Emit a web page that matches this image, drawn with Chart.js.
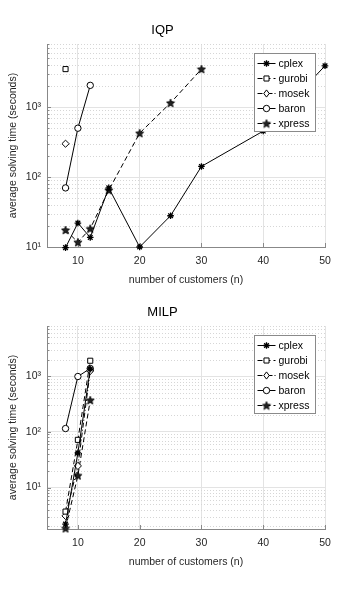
<!DOCTYPE html>
<html><head><meta charset="utf-8">
<script src="https://cdn.jsdelivr.net/npm/chart.js@4.4.0/dist/chart.umd.min.js"></script>
<style>
html,body{margin:0;padding:0;background:#fff;width:360px;height:595px;overflow:hidden;}
.box{position:absolute;left:0;width:360px;height:300px;}
canvas{display:block;}
</style></head><body>
<div class="box" style="top:0"><canvas id="c1" width="360" height="300"></canvas></div>
<div class="box" style="top:282px"><canvas id="c2" width="360" height="300"></canvas></div>
<script>
// ---- data ----
const solvers = ['cplex','gurobi','mosek','baron','xpress'];
const xTicks = [10,20,30,40,50];
const yTicks = [10,100,1000];
const yTickLabels = ['10\u00B9','10\u00B2','10\u00B3'];

// IQP
const iqpCplexN  = [8,10,12,15,20,25,30,40,50];
const iqpCplexT  = [9.8,22,13.7,70,10,28,142,455,3900];
const iqpGurobiN = [8];
const iqpGurobiT = [3500];
const iqpMosekN  = [8];
const iqpMosekT  = [300];
const iqpBaronN  = [8,10,12];
const iqpBaronT  = [70,500,2050];
const iqpXpressN = [8,10,12,15,20,25,30];
const iqpXpressT = [17.5,11.7,18.3,65,425,1150,3500];

// MILP
const milpCplexN  = [8,10,12];
const milpCplexT  = [2.2,42,1350];
const milpGurobiN = [8,10,12];
const milpGurobiT = [3.7,72,1900];
const milpMosekN  = [8,10,12];
const milpMosekT  = [3.1,24.5,1250];
const milpBaronN  = [8,10,12];
const milpBaronT  = [115,990,1380];
const milpXpressN = [8,10,12];
const milpXpressT = [1.85,16.5,372];

// ---- styling ----
const FONT = "'Liberation Sans', Arial, sans-serif";
const TXT = '#262626';

function makeStar(){
  const c = document.createElement('canvas');
  c.width = 10; c.height = 10;
  const g = c.getContext('2d');
  g.beginPath();
  for (let i=0;i<10;i++){
    const r = i%2===0 ? 4.3 : 1.9;
    const a = -Math.PI/2 + i*Math.PI/5;
    const x = 5 + r*Math.cos(a), y = 5.4 + r*Math.sin(a);
    if (i===0) g.moveTo(x,y); else g.lineTo(x,y);
  }
  g.closePath();
  g.fillStyle = '#222'; g.fill();
  g.strokeStyle = '#000'; g.lineWidth = 0.8; g.stroke();
  return c;
}
const starImg = makeStar();

const seriesStyle = [
  {pointStyle:'star',    radius:3.3, dash:[]},
  {pointStyle:'rect',    radius:3.6, dash:[5,3]},
  {pointStyle:'rectRot', radius:3.6, dash:[5,2,1,2]},
  {pointStyle:'circle',  radius:3.2, dash:[]},
  {pointStyle:starImg,   radius:4,   dash:[5,3]}
];

function pts(n, t){ return n.map((v,i)=>({x:v, y:t[i]})); }

function datasets(list){
  return list.map((d,i)=>({
    label: solvers[i],
    data: pts(d[0], d[1]),
    borderColor:'#000',
    backgroundColor:'#fff',
    borderWidth:1,
    borderDash: seriesStyle[i].dash,
    pointStyle: seriesStyle[i].pointStyle,
    pointRadius: seriesStyle[i].radius,
    pointBorderColor:'#000',
    pointBackgroundColor: i===0 ? '#000' : '#fff',
    pointBorderWidth: i===0 ? 1.3 : 1,
    tension:0,
    clip:false
  }));
}

function drawMarker(ctx, style, x, y, r){
  ctx.save();
  ctx.setLineDash([]);
  ctx.strokeStyle='#000'; ctx.fillStyle='#fff'; ctx.lineWidth=1;
  if (style instanceof HTMLCanvasElement){
    ctx.drawImage(style, x - style.width/2, y - style.height/2);
  } else if (style==='star'){
    ctx.lineWidth=1.3;
    ctx.beginPath();
    for (let k=0;k<4;k++){
      const a = k*Math.PI/4;
      ctx.moveTo(x - r*Math.cos(a), y - r*Math.sin(a));
      ctx.lineTo(x + r*Math.cos(a), y + r*Math.sin(a));
    }
    ctx.stroke();
  } else if (style==='rect'){
    const s = r*Math.SQRT1_2;
    ctx.beginPath(); ctx.rect(x-s,y-s,2*s,2*s); ctx.fill(); ctx.stroke();
  } else if (style==='rectRot'){
    ctx.beginPath(); ctx.moveTo(x,y-r); ctx.lineTo(x+r*0.75,y); ctx.lineTo(x,y+r); ctx.lineTo(x-r*0.75,y); ctx.closePath(); ctx.fill(); ctx.stroke();
  } else {
    ctx.beginPath(); ctx.arc(x,y,r,0,Math.PI*2); ctx.fill(); ctx.stroke();
  }
  ctx.restore();
}

const minorGrid = {
  id:'minorGrid',
  beforeDatasetsDraw(chart){
    const ys = chart.scales.y, xs = chart.scales.x, a = chart.chartArea, ctx = chart.ctx;
    ctx.save();
    const d0 = Math.floor(Math.log10(ys.min)), d1 = Math.ceil(Math.log10(ys.max));
    for (let d=d0; d<=d1; d++){
      for (let k=2;k<=9;k++){
        const v = k*Math.pow(10,d);
        if (v < ys.min || v > ys.max) continue;
        const y = Math.round(ys.getPixelForValue(v)) + 0.5;
        ctx.strokeStyle='#d6d6d6'; ctx.lineWidth=1; ctx.setLineDash([1,2]);
        ctx.beginPath(); ctx.moveTo(a.left+1, y); ctx.lineTo(a.right, y); ctx.stroke();
        ctx.setLineDash([]);
        ctx.strokeStyle='#888';
        ctx.beginPath(); ctx.moveTo(a.left, y); ctx.lineTo(a.left+2.5, y); ctx.stroke();
      }
    }
    ctx.strokeStyle='#888'; ctx.setLineDash([]);
    yTicks.forEach(v=>{
      if (v < ys.min || v > ys.max) return;
      const y = Math.round(ys.getPixelForValue(v)) + 0.5;
      ctx.beginPath(); ctx.moveTo(a.left, y); ctx.lineTo(a.left+4, y); ctx.stroke();
    });
    xTicks.forEach(v=>{
      const x = Math.round(xs.getPixelForValue(v)) + 0.5;
      ctx.beginPath(); ctx.moveTo(x, a.bottom); ctx.lineTo(x, a.bottom-4); ctx.stroke();
    });
    ctx.restore();
  }
};

const mLegend = {
  id:'mLegend',
  afterDraw(chart){
    const a = chart.chartArea, ctx = chart.ctx;
    const x0 = a.right - 70.5, y0 = a.top + 9.5, w = 61, h = 78;
    ctx.save();
    ctx.fillStyle='#fff'; ctx.fillRect(x0,y0,w,h);
    ctx.strokeStyle='#8a8a8a'; ctx.lineWidth=1; ctx.strokeRect(x0,y0,w,h);
    ctx.font = "10.5px " + FONT;
    ctx.textBaseline='middle'; ctx.textAlign='left';
    solvers.forEach((s,i)=>{
      const y = y0 + 10 + i*15;
      ctx.strokeStyle='#000'; ctx.lineWidth=1;
      ctx.setLineDash(seriesStyle[i].dash);
      ctx.beginPath(); ctx.moveTo(x0+3, y); ctx.lineTo(x0+21, y); ctx.stroke();
      ctx.setLineDash([]);
      drawMarker(ctx, seriesStyle[i].pointStyle, x0+12, y, seriesStyle[i].radius);
      ctx.fillStyle='#000';
      ctx.fillText(s, x0+24, y+0.5);
    });
    ctx.restore();
  }
};

function makeChart(id, title, ymin, ymax, data){
  return new Chart(document.getElementById(id), {
    type:'line',
    data:{datasets: datasets(data)},
    options:{
      responsive:false, animation:false, devicePixelRatio:1,
      layout:{padding:{top:0,left:0,right:35,bottom:0}},
      plugins:{
        legend:{display:false},
        tooltip:{enabled:false},
        title:{display:true, text:title, color:'#000',
          font:{family:FONT, size:13, weight:'normal', lineHeight:1.2},
          padding:{top:22.6, bottom:5.8}}
      },
      scales:{
        x:{
          type:'linear', min:5, max:50,
          afterBuildTicks:s=>{ s.ticks = xTicks.map(v=>({value:v})); },
          afterFit:s=>{ s.height = 53; },
          grid:{color:'#e3e3e3', drawTicks:false, lineWidth:1},
          border:{color:'#888'},
          ticks:{color:TXT, font:{family:FONT,size:10.5}, padding:8, maxRotation:0},
          title:{display:true, text:'number of customers (n)', color:TXT,
            font:{family:FONT,size:10.5,lineHeight:1.2}, padding:{top:0,bottom:13.4}}
        },
        y:{
          type:'logarithmic', min:ymin, max:ymax,
          afterBuildTicks:s=>{ s.ticks = yTicks.map(v=>({value:v})); },
          afterFit:s=>{ s.width = 47; },
          grid:{color:'#e3e3e3', drawTicks:false, lineWidth:1},
          border:{color:'#888'},
          ticks:{color:TXT, font:{family:FONT,size:10.5}, padding:6,
            callback:(v)=>{ const i = yTicks.indexOf(v); return i>=0 ? yTickLabels[i] : ''; }},
          title:{display:true, text:'average solving time (seconds)', color:TXT,
            font:{family:FONT,size:10.5,lineHeight:1.2}, padding:{top:6.4,bottom:0}}
        }
      }
    },
    plugins:[minorGrid, mLegend]
  });
}

makeChart('c1','IQP',10,8000,[
  [iqpCplexN,iqpCplexT],[iqpGurobiN,iqpGurobiT],[iqpMosekN,iqpMosekT],
  [iqpBaronN,iqpBaronT],[iqpXpressN,iqpXpressT]
]);
makeChart('c2','MILP',1.8,8000,[
  [milpCplexN,milpCplexT],[milpGurobiN,milpGurobiT],[milpMosekN,milpMosekT],
  [milpBaronN,milpBaronT],[milpXpressN,milpXpressT]
]);
</script>
</body></html>
